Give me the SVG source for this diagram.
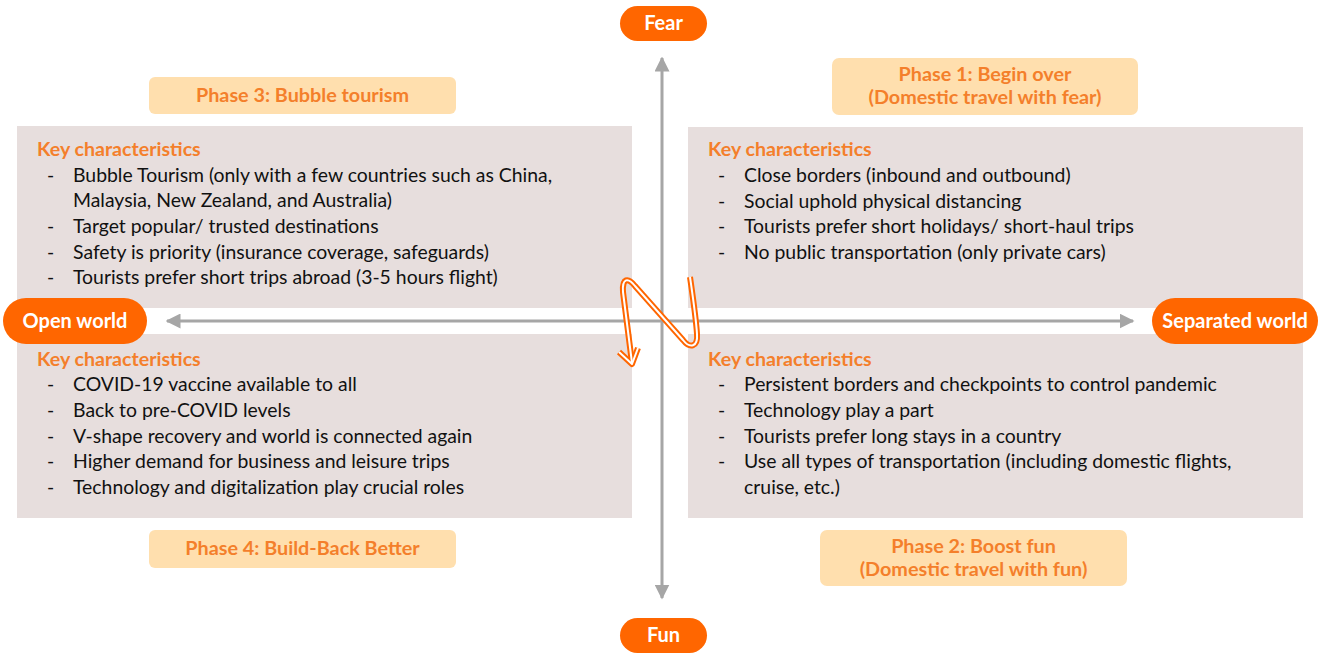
<svg xmlns="http://www.w3.org/2000/svg" width="1326" height="655" viewBox="0 0 1326 655">
  <defs>
    <style>
      .box { fill: #E7DEDD; }
      .phase { fill: #FFDFAE; }
      .phase-text { font-family: Lato, "Open Sans", sans-serif; font-weight: bold; font-size: 19.8px; fill: #F47F2B; text-anchor: middle; }
      .pill { fill: #FF6600; }
      .pill-text { font-family: Lato, "Open Sans", sans-serif; font-weight: bold; font-size: 20px; fill: #FFFFFF; text-anchor: middle; }
      .head { font-family: Lato, "Open Sans", sans-serif; font-weight: bold; font-size: 19.6px; fill: #F47F2B; }
      .item { font-family: Lato, "Open Sans", sans-serif; font-size: 19.4px; fill: #111111; }
      .axis { stroke: #A6A6A6; stroke-width: 3; fill: none; }
      .swirl-outer { stroke: #FF6600; stroke-width: 6; fill: none; stroke-linecap: butt; stroke-linejoin: round; }
      .swirl-inner { stroke: #FFFFFF; stroke-width: 2; fill: none; stroke-linecap: butt; stroke-linejoin: round; }
    </style>
    <marker id="axisHead" viewBox="0 0 10 10" refX="9" refY="5" markerWidth="5" markerHeight="5" orient="auto-start-reverse" markerUnits="strokeWidth">
      <path d="M0,0 L10,5 L0,10 Z" fill="#A6A6A6"/>
    </marker>
  </defs>

  <rect width="1326" height="655" fill="#FFFFFF"/>

  <!-- quadrant panels -->
  <g id="quadrant-top-left">
    <rect class="box" x="17" y="126" width="615" height="182"/>
    <text class="head" x="37" y="156">Key characteristics</text>
    <g class="item">
      <text x="47" y="182">-</text><text x="73" y="182">Bubble Tourism (only with a few countries such as China,</text>
      <text x="73" y="207">Malaysia, New Zealand, and Australia)</text>
      <text x="47" y="233">-</text><text x="73" y="233">Target popular/ trusted destinations</text>
      <text x="47" y="259">-</text><text x="73" y="259">Safety is priority (insurance coverage, safeguards)</text>
      <text x="47" y="284">-</text><text x="73" y="284">Tourists prefer short trips abroad (3-5 hours flight)</text>
    </g>
  </g>

  <g id="quadrant-top-right">
    <rect class="box" x="688" y="127" width="615" height="181"/>
    <text class="head" x="708" y="156">Key characteristics</text>
    <g class="item">
      <text x="718" y="182">-</text><text x="744" y="182">Close borders (inbound and outbound)</text>
      <text x="718" y="208">-</text><text x="744" y="208">Social uphold physical distancing</text>
      <text x="718" y="233">-</text><text x="744" y="233">Tourists prefer short holidays/ short-haul trips</text>
      <text x="718" y="259">-</text><text x="744" y="259">No public transportation (only private cars)</text>
    </g>
  </g>

  <g id="quadrant-bottom-left">
    <rect class="box" x="17" y="334" width="615" height="184"/>
    <text class="head" x="37" y="366">Key characteristics</text>
    <g class="item">
      <text x="47" y="391">-</text><text x="73" y="391">COVID-19 vaccine available to all</text>
      <text x="47" y="417">-</text><text x="73" y="417">Back to pre-COVID levels</text>
      <text x="47" y="443">-</text><text x="73" y="443">V-shape recovery and world is connected again</text>
      <text x="47" y="468">-</text><text x="73" y="468">Higher demand for business and leisure trips</text>
      <text x="47" y="494">-</text><text x="73" y="494">Technology and digitalization play crucial roles</text>
    </g>
  </g>

  <g id="quadrant-bottom-right">
    <rect class="box" x="688" y="334" width="615" height="184"/>
    <text class="head" x="708" y="366">Key characteristics</text>
    <g class="item">
      <text x="718" y="391">-</text><text x="744" y="391">Persistent borders and checkpoints to control pandemic</text>
      <text x="718" y="417">-</text><text x="744" y="417">Technology play a part</text>
      <text x="718" y="443">-</text><text x="744" y="443">Tourists prefer long stays in a country</text>
      <text x="718" y="468">-</text><text x="744" y="468">Use all types of transportation (including domestic flights,</text>
      <text x="744" y="494">cruise, etc.)</text>
    </g>
  </g>

  <!-- phase labels -->
  <g id="phase-3">
    <rect class="phase" x="149" y="77" width="307" height="37" rx="6"/>
    <text class="phase-text" x="302.5" y="102">Phase 3: Bubble tourism</text>
  </g>
  <g id="phase-1">
    <rect class="phase" x="832" y="58" width="306" height="57" rx="7"/>
    <text class="phase-text" x="985" y="81">Phase 1: Begin over</text>
    <text class="phase-text" x="985" y="104">(Domestic travel with fear)</text>
  </g>
  <g id="phase-4">
    <rect class="phase" x="149" y="530" width="307" height="38" rx="6"/>
    <text class="phase-text" x="302.5" y="555">Phase 4: Build-Back Better</text>
  </g>
  <g id="phase-2">
    <rect class="phase" x="820" y="530" width="307" height="56" rx="7"/>
    <text class="phase-text" x="973.5" y="553">Phase 2: Boost fun</text>
    <text class="phase-text" x="973.5" y="576">(Domestic travel with fun)</text>
  </g>

  <!-- axes and cycle arrow -->
  <g id="connectors">
    <line class="axis" x1="662" y1="598" x2="662" y2="58" marker-end="url(#axisHead)" marker-start="url(#axisHead)"/>
    <line class="axis" x1="167" y1="321" x2="1133" y2="321" marker-end="url(#axisHead)" marker-start="url(#axisHead)"/>
    <g id="cycle-arrow">
      <path class="swirl-outer" d="M690,277 C693,298 696,318 697,334 C698,347 690,349 683,340 L635,286 C628,277 622,278 623,292 L632,363"/>
      <path class="swirl-outer" d="M619,352 L632,364 L638,348"/>
      <path class="swirl-inner" d="M690,277 C693,298 696,318 697,334 C698,347 690,349 683,340 L635,286 C628,277 622,278 623,292 L632,363"/>
      <path class="swirl-inner" d="M619,352 L632,364 L638,348"/>
    </g>
  </g>

  <!-- axis end labels -->
  <g id="fear">
    <rect class="pill" x="620" y="6" width="87" height="35" rx="17.5"/>
    <text class="pill-text" x="663.5" y="30">Fear</text>
  </g>
  <g id="fun">
    <rect class="pill" x="620" y="618" width="87" height="35" rx="17.5"/>
    <text class="pill-text" x="663.5" y="642">Fun</text>
  </g>
  <g id="open-world">
    <rect class="pill" x="3" y="298" width="144" height="46" rx="23"/>
    <text class="pill-text" x="75" y="328">Open world</text>
  </g>
  <g id="separated-world">
    <rect class="pill" x="1152" y="298" width="166" height="46" rx="23"/>
    <text class="pill-text" x="1235" y="328">Separated world</text>
  </g>
</svg>
